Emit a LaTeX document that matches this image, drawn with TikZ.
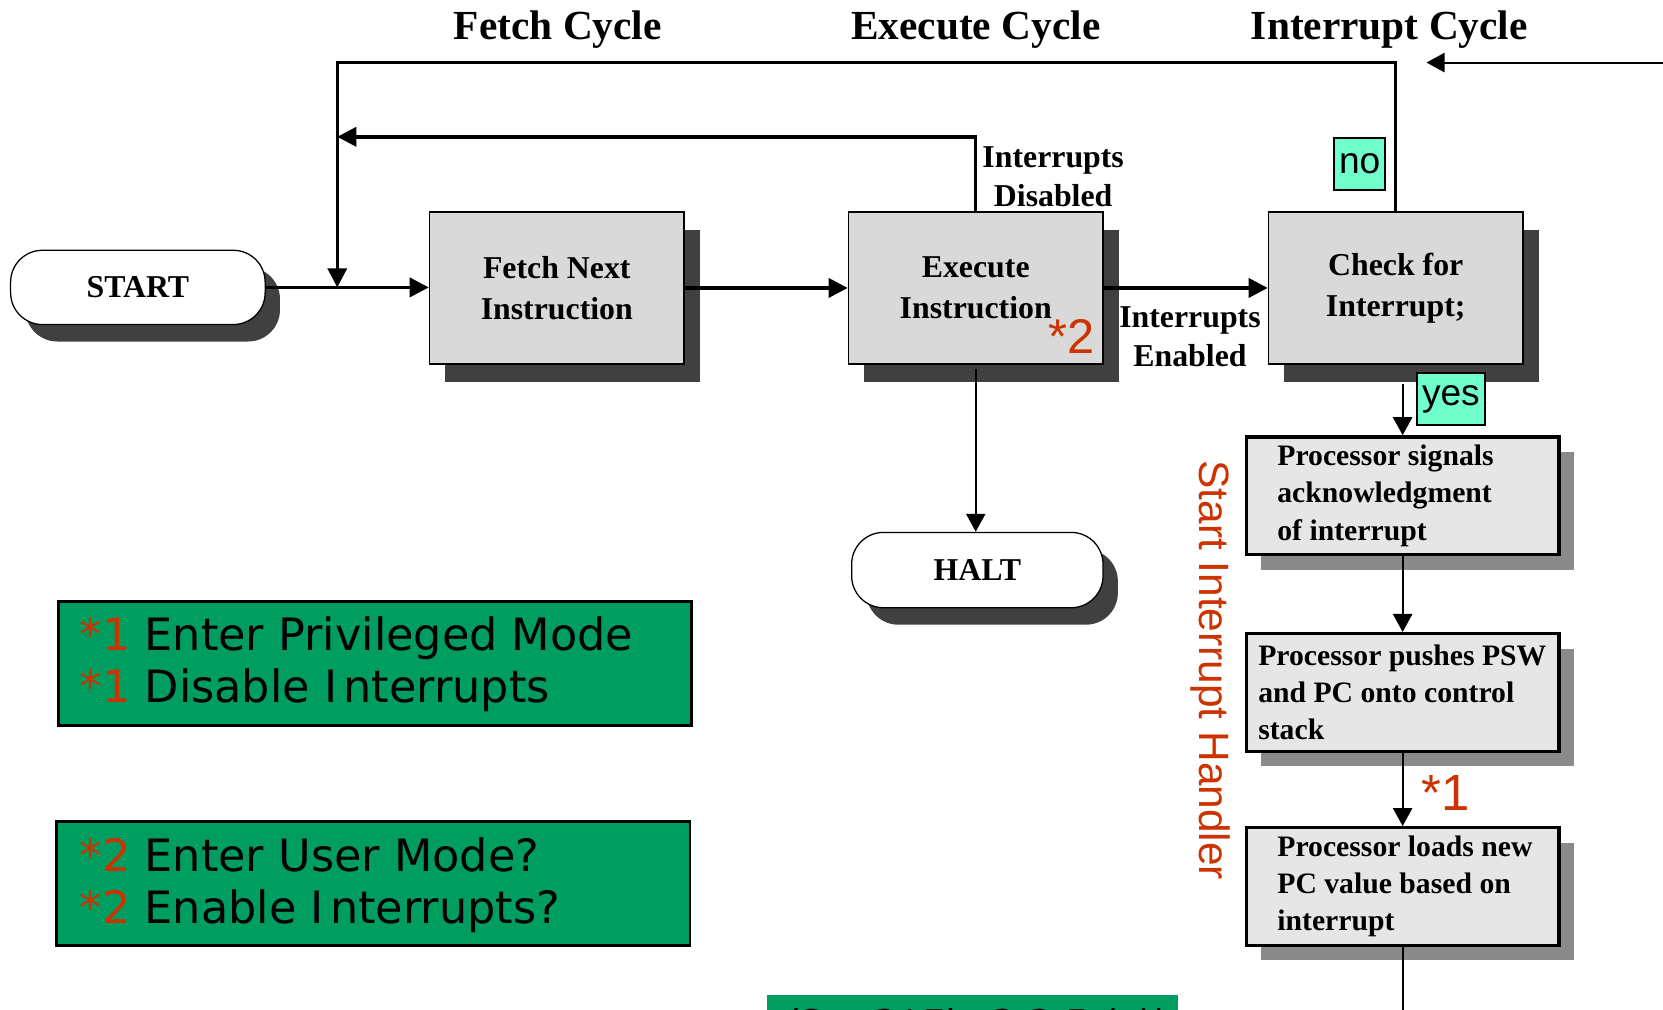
\documentclass[tikz,border=0pt]{standalone}
\usepackage{fontspec}
\setmainfont{Liberation Serif}
\newfontfamily\arialf{Liberation Sans}
\newfontfamily\dvs{DejaVu Sans}
\usetikzlibrary{arrows.meta,shadows}
\definecolor{redc}{RGB}{204,51,0}
\definecolor{greenc}{RGB}{0,157,96}
\definecolor{aquac}{RGB}{112,255,204}
\definecolor{boxgray}{RGB}{217,217,217}
\definecolor{shdark}{RGB}{64,64,64}
\definecolor{boxlight}{RGB}{230,230,230}
\definecolor{shlight}{RGB}{138,138,138}
\begin{document}
\begin{tikzpicture}[x=0.5pt,y=-0.5pt,
  hdr/.style={font=\fontsize{19.5}{23}\selectfont\bfseries, inner sep=0pt, anchor=base},
  gbox/.style={draw=black, line width=0.7pt, fill=boxgray, minimum width=120pt, minimum height=71.5pt, align=center, font=\fontsize{15}{19.5}\selectfont\bfseries, general shadow={fill=shdark, shadow xshift=7.5pt, shadow yshift=-8.5pt}},
  termbox/.style={draw=black, line width=0.6pt, fill=white, rounded corners=15pt, minimum width=120pt, minimum height=35pt, font=\fontsize{15}{18}\selectfont\bfseries, general shadow={fill=shdark, shadow xshift=7pt, shadow yshift=-8pt}},
  stepbox/.style={draw=black, line width=1.6pt, fill=boxlight, minimum width=147.5pt, minimum height=55.5pt, general shadow={fill=shlight, shadow xshift=7pt, shadow yshift=-7pt}},
  steptxt/.style={font=\fontsize{14}{17.5}\selectfont\bfseries, align=left, anchor=west, inner sep=0pt},
  condtxt/.style={font=\fontsize{15}{18.5}\selectfont\bfseries, align=center, inner sep=0pt},
  tagbox/.style={draw=black, line width=0.8pt, fill=aquac, font=\arialf\fontsize{17.5}{20}\selectfont, inner sep=0pt},
  notebox/.style={draw=black, line width=1.2pt, fill=greenc, minimum width=298.5pt, minimum height=58.5pt},
  notetxt/.style={font=\dvs\fontsize{21}{24.5}\selectfont, align=left, anchor=west, inner sep=0pt},
  startxt/.style={text=redc, inner sep=0pt, anchor=base west},
  flowarrow/.style={line width=1.6pt, -{Triangle[length=9pt,width=9pt]}},
  thinarrow/.style={line width=1pt, -{Triangle[length=8.5pt,width=9pt]}},
]
\path[use as bounding box, fill=white] (0,0) rectangle (1568,952);

% headings
\node[hdr] (tfetch) at (526,37) {Fetch Cycle};
\node[hdr] (texec) at (920,37) {Execute Cycle};
\node[hdr] (tint) at (1310,37) {Interrupt Cycle};

% main flow
\node[termbox] (start) at (130,271) {START};
\node[gbox] (fetch) at (525,271.5) {Fetch Next\\Instruction};
\node[gbox] (exec) at (920,271.5) {Execute\\Instruction};
\node[gbox] (check) at (1316,271.5) {Check for\\Interrupt;};
\node[termbox, minimum width=118.5pt, minimum height=35.5pt] (halt) at (921.5,537.5) {HALT};

% interrupt handler steps
\node[stepbox] (ack) at (1322.5,467.5) {};
\node[stepbox] (push) at (1322.5,653) {};
\node[stepbox] (load) at (1322.5,836) {};
\node[steptxt] (ackt) at (1204,467.5) {Processor signals\\acknowledgment\\of interrupt};
\node[steptxt] (pusht) at (1186,653) {Processor pushes PSW\\and PC onto control\\stack};
\node[steptxt] (loadt) at (1204,836) {Processor loads new\\PC value based on\\interrupt};

% condition labels
\node[condtxt] (dis) at (993,166.5) {Interrupts\\Disabled};
\node[condtxt] (en) at (1122,317.5) {Interrupts\\Enabled};
\node[tagbox, minimum width=24pt, minimum height=24.5pt] (no) at (1282,154.5) {no};
\node[tagbox, minimum width=32pt, minimum height=24.5pt] (yes) at (1368,376.5) {yes};
\node[startxt, font=\arialf\fontsize{23}{26}\selectfont] (s2) at (988,333) {*2};
\node[startxt, font=\arialf\fontsize{24}{27}\selectfont] (s1) at (1340,764) {*1};
\node[rotate=-90, text=redc, font=\arialf\fontsize{20}{24}\selectfont, inner sep=0pt] (handler) at (1141,632) {Start Interrupt Handler};

% green notes
\node[notebox] (n1) at (353.5,625.5) {};
\node[notetxt] (n1t) at (75,626.5) {\textcolor{redc}{*1} Enter Privileged Mode\\\textcolor{redc}{*1} Disable I\kern3pt nterrupts};
\node[notebox] (n2) at (352,833) {};
\node[notetxt] (n2t) at (75,834.5) {\textcolor{redc}{*2} Enter User Mode?\\\textcolor{redc}{*2} Enable I\kern3pt nterrupts?};

\begin{scope}
\clip (0,0) rectangle (1568,952);
\node[fill=greenc, minimum width=193.5pt, minimum height=40pt, anchor=north west, inner sep=0pt] (refbox) at (723,938) {};
\node[anchor=base west, inner sep=0pt, font=\dvs\itshape\fontsize{18}{20}\selectfont] (reft) at (737,978) {(Sta 3/ Fig 3.3.5 (a))};
\end{scope}

% coordinates
\coordinate (jn) at (318,271);
\coordinate (tl) at (318,59);
\coordinate (j2) at (318,129);
\coordinate (redge) at (1568,59);
\coordinate (rtip) at (1345,59);
\coordinate (bot) at (1322.5,952);

% connectors
\draw[flowarrow] (start.east) -- (start.east -| fetch.west);
\draw[flowarrow] (fetch.east) -- (exec.west);
\draw[flowarrow] (exec.east) -- (check.west);
\draw[flowarrow] (check.north) |- (tl) -- (jn);
\draw[flowarrow] (exec.north) |- (j2);
\draw[thinarrow] (redge) -- (rtip);
\draw[thinarrow] ([yshift=-2pt]exec.south) -- (exec.south |- halt.north);
\draw[thinarrow] ([yshift=-9pt]ack.north |- check.south) -- (ack.north);
\draw[thinarrow] (ack.south) -- (push.north);
\draw[thinarrow] (push.south) -- (load.north);
\draw[line width=1pt] (load.south) -- (bot);
\end{tikzpicture}
\end{document}
